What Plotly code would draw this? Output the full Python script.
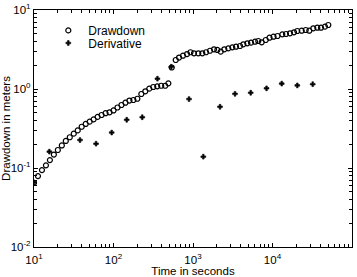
import plotly.graph_objects as go

# Drawdown data (time in s, drawdown in m)
time_dd = [10, 11.22, 12.59, 14.13, 15.85, 17.78, 19.95, 22.39, 25.12, 28.18,
           31.62, 35.48, 39.81, 44.67, 50.12, 56.23, 63.10, 70.79, 79.43, 89.13,
           100, 112.2, 125.9, 141.3, 158.5, 177.8, 199.5, 223.9, 251.2, 281.8,
           316.2, 354.8, 398.1, 446.7, 490,
           540, 606, 667, 748, 841, 930, 1030, 1166, 1309, 1458,
           1636, 1837, 2023, 2230, 2477, 2780, 3120, 3474, 3900, 4295,
           4822, 5370, 6026, 6625, 7311, 8222, 9170, 10300, 11560, 13280,
           14790, 16600, 18620, 20510, 23280, 26180, 29040, 32600, 36610, 40740,
           45710, 50350]
drawdown = [0.065, 0.079, 0.094, 0.108, 0.126, 0.148, 0.169, 0.193, 0.220, 0.245,
            0.272, 0.299, 0.333, 0.361, 0.386, 0.413, 0.443, 0.469, 0.494, 0.507,
            0.535, 0.583, 0.627, 0.671, 0.714, 0.726, 0.753, 0.865, 0.935, 1.01,
            1.06, 1.08, 1.10, 1.10, 1.18,
            1.87, 2.33, 2.50, 2.64, 2.77, 2.92, 2.83, 2.83, 2.83, 2.92,
            3.05, 3.18, 3.12, 2.97, 3.18, 3.27, 3.37, 3.43, 3.50, 3.68,
            3.79, 3.86, 3.97, 4.05, 3.90, 4.17, 4.46, 4.59, 4.69, 4.92,
            4.97, 5.07, 5.22, 5.42, 5.47, 5.58, 5.47, 5.87, 5.97, 5.97,
            6.15, 6.46]

# Derivative data
time_der = [10, 15.6, 37.9, 60.3, 94.9, 146.6, 230, 357, 533, 891,
            1348, 2187, 3375, 5318, 8412, 13060, 20510, 32060]
derivative = [0.0655, 0.161, 0.226, 0.203, 0.281, 0.408, 0.439, 1.35, 1.91, 0.746,
              0.139, 0.596, 0.869, 0.897, 1.02, 1.17, 1.11, 1.15]

# Tick labels
x_exponents = [1, 2, 3, 4, 5]
y_exponents = [-2, -1, 0, 1]
x_tickvals = [10.0 ** e for e in x_exponents]
x_ticktext = ["10<sup>%d</sup>" % e for e in x_exponents]
y_tickvals = [10.0 ** e for e in y_exponents]
y_ticktext = ["10<sup>%d</sup>" % e for e in y_exponents]
x_minor = [m * 10.0 ** e for e in x_exponents[:-1] for m in range(2, 10)]
y_minor = [m * 10.0 ** e for e in y_exponents[:-1] for m in range(2, 10)]

FONT = "Liberation Sans, Arial, Helvetica, sans-serif"

fig = go.Figure()
fig.add_trace(go.Scatter(
    x=time_dd, y=drawdown, mode="markers", name="Drawdown", legend="legend",
    marker=dict(symbol="circle-open", size=5, color="black", line=dict(width=1.2, color="black")),
))
fig.add_trace(go.Scatter(
    x=time_der, y=derivative, mode="markers", name="Derivative", legend="legend2",
    marker=dict(symbol="cross", size=4, color="black", line=dict(width=0.6, color="black")),
))

axis_common = dict(
    type="log", showgrid=False, zeroline=False, automargin=False,
    showline=True, linecolor="black", linewidth=1.2, mirror="allticks",
    ticks="inside", ticklen=4, tickcolor="black", tickwidth=1,
    tickmode="array",
    tickfont=dict(family=FONT, size=11.5, color="black"),
)

legend_common = dict(xanchor="left", yanchor="top",
                     bgcolor="rgba(0,0,0,0)", borderwidth=0,
                     font=dict(family=FONT, size=12, color="black"))

fig.update_layout(
    width=357, height=277,
    margin=dict(l=34, r=5, t=10, b=30),
    paper_bgcolor="white", plot_bgcolor="white",
    font=dict(family=FONT, size=11.5, color="black"),
    showlegend=True,
    legend=dict(legend_common, x=0.045, y=0.975),
    legend2=dict(legend_common, x=0.045, y=0.922),
    xaxis=dict(axis_common, range=[1, 5],
               tickvals=x_tickvals, ticktext=x_ticktext, ticklabelstandoff=2,
               minor=dict(tickmode="array", tickvals=x_minor, ticks="inside",
                          ticklen=2.5, tickcolor="black", showgrid=False),
               title=dict(text="Time in seconds", standoff=7,
                          font=dict(family=FONT, size=11.5, color="black"))),
    yaxis=dict(axis_common, range=[-2, 1],
               tickvals=y_tickvals, ticktext=y_ticktext,
               minor=dict(tickmode="array", tickvals=y_minor, ticks="inside",
                          ticklen=2.5, tickcolor="black", showgrid=False),
               title=dict(text="Drawdown in meters", standoff=4,
                          font=dict(family=FONT, size=11.5, color="black"))),
)

fig.write_html("out.html")
